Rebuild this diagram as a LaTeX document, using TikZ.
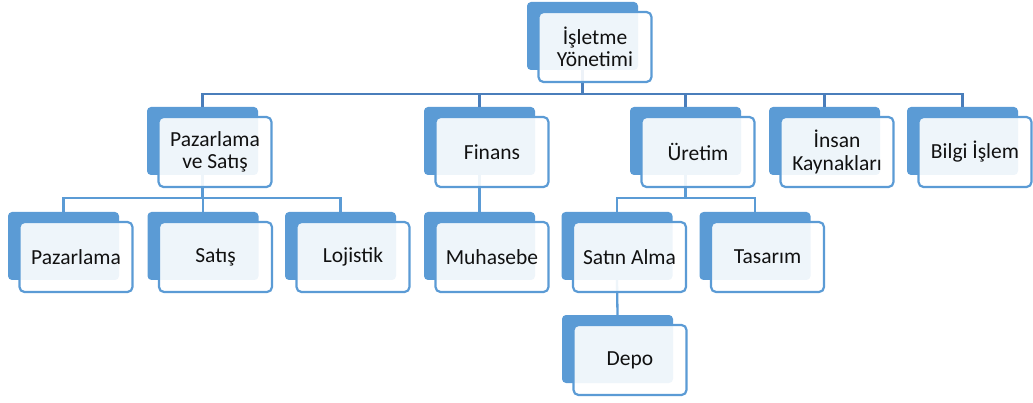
\documentclass[tikz,border=0pt]{standalone}
\usepackage{fontspec}
\setmainfont{Carlito}
\definecolor{accent}{HTML}{5B9BD5}
\definecolor{busdark}{HTML}{4A7EBB}
\definecolor{ink}{HTML}{111111}
\tikzset{
  backbox/.style={rectangle, rounded corners=4pt, fill=accent, draw=none,
    minimum width=111pt, minimum height=68pt, inner sep=0pt},
  frontbox/.style={rectangle, rounded corners=5pt, draw=accent, line width=2.2pt,
    fill=white, fill opacity=0.9, text opacity=1, text=ink,
    minimum width=113pt, minimum height=70pt, inner sep=0pt, align=center,
    font=\fontsize{21.5}{22.5}\selectfont},
  conn/.style={draw=accent, line width=2.3pt},
  conntop/.style={draw=busdark, line width=2.3pt}
}
% one unit: back block plus the anchor of its offset front card
\newcommand{\orgunit}[3]{%
  \node[backbox] (#1) at (#2,#3) {};
  \coordinate (#1-c) at (#2+12.5,#3+11);
}
\newcommand{\orgcard}[2]{%
  \node[frontbox] (#1-f) at (#1-c) {#2};
}
\begin{document}
\begin{tikzpicture}[x=1pt,y=-1pt]
\useasboundingbox (0,0) rectangle (1033,403);
% back blocks
\orgunit{top}{582.5}{36}
\orgunit{pzs}{202.5}{141}
\orgunit{fin}{479.5}{141}
\orgunit{ure}{685.5}{141}
\orgunit{ik}{824.5}{141}
\orgunit{bi}{962.5}{141}
\orgunit{paz}{63.5}{246}
\orgunit{sat}{203}{246}
\orgunit{loj}{340.5}{246}
\orgunit{muh}{479.5}{246}
\orgunit{sal}{617}{246}
\orgunit{tas}{755}{246}
\orgunit{dep}{617.5}{349}
% connectors
\coordinate (bus1) at (0,94);
\coordinate (bus2) at (0,198);
\foreach \c in {pzs,fin,ure,ik,bi}
  \draw[conntop] (top.south) -- (top.south |- bus1) -| (\c.north);
\foreach \c in {paz,sat,loj}
  \draw[conn] (pzs.south) -- (pzs.south |- bus2) -| (\c.north);
\foreach \c in {sal,tas}
  \draw[conn] (ure.south) -- (ure.south |- bus2) -| (\c.north);
\draw[conn] (fin.south) -- (muh.north);
\draw[conn] (sal.south) -- (dep.north);
% front cards
\orgcard{top}{İşletme\\Yönetimi}
\orgcard{pzs}{Pazarlama\\ve Satış}
\orgcard{fin}{Finans}
\orgcard{ure}{Üretim}
\orgcard{ik}{İnsan\\Kaynakları}
\orgcard{bi}{Bilgi İşlem}
\orgcard{paz}{Pazarlama}
\orgcard{sat}{Satış}
\orgcard{loj}{Lojistik}
\orgcard{muh}{Muhasebe}
\orgcard{sal}{Satın Alma}
\orgcard{tas}{Tasarım}
\orgcard{dep}{Depo}
\end{tikzpicture}
\end{document}
